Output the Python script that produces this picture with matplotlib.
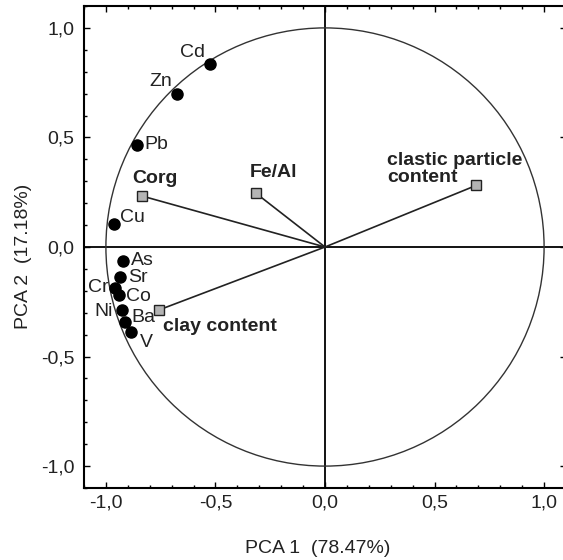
import matplotlib
matplotlib.use('Agg')
import matplotlib.pyplot as plt
from matplotlib.patches import Circle
from matplotlib.ticker import MultipleLocator, FuncFormatter

plt.rcParams['font.family'] = ['Liberation Sans', 'DejaVu Sans']

# element loadings (circles)
elements = ['Cd', 'Zn', 'Pb', 'Cu', 'As', 'Sr', 'Cr', 'Co', 'Ni', 'Ba', 'V']
el_pc1 = [-0.527, -0.676, -0.859, -0.964, -0.920, -0.936, -0.958, -0.940, -0.927, -0.912, -0.885]
el_pc2 = [0.835, 0.700, 0.466, 0.105, -0.064, -0.137, -0.185, -0.220, -0.289, -0.344, -0.389]

# supplementary variables (squares)
supp = ['Corg', 'Fe/Al', 'clastic particle\ncontent', 'clay content']
supp_pc1 = [-0.836, -0.316, 0.690, -0.757]
supp_pc2 = [0.233, 0.246, 0.281, -0.287]

ticks = [-1.0, -0.5, 0.0, 0.5, 1.0]

# label offsets in points (dx, dy, ha)
el_off = {
    'Cd': (-12.4, 8.5, 'center'), 'Zn': (-11.7, 8.4, 'center'),
    'Pb': (5.5, 0, 'left'), 'Cu': (4.8, 4.5, 'left'), 'As': (5.5, 0.5, 'left'),
    'Sr': (6, 0, 'left'), 'Cr': (-5, 0, 'right'), 'Co': (5, -0.7, 'left'),
    'Ni': (-6.5, -0.7, 'right'), 'Ba': (4.5, 3.6, 'left'), 'V': (6.5, -7.6, 'left'),
}
supp_off = [(-6.7, 12.6), (-4.5, 15), (-64, 11.9), (3, -12)]

txt = '#222222'
fs = 14

fig = plt.figure(figsize=(5.63, 5.60), dpi=100)
ax = fig.add_axes([84 / 563, 72 / 560, 482 / 563, 482 / 560])

ax.axhline(0, color='k', lw=1.3, zorder=1)
ax.axvline(0, color='k', lw=1.3, zorder=1)
ax.add_patch(Circle((0, 0), 1.0, fill=False, ec='#333333', lw=1.0, zorder=1))

for x, y in zip(supp_pc1, supp_pc2):
    ax.plot([0, x], [0, y], color='#222222', lw=1.2, zorder=2)

ax.plot(el_pc1, el_pc2, 'o', color='k', ms=8, zorder=4)
ax.plot(supp_pc1, supp_pc2, 's', mfc='#b4b4b4', mec='#222222', mew=1.0,
        ms=7, zorder=4)

for name, x, y in zip(elements, el_pc1, el_pc2):
    dx, dy, ha = el_off[name]
    ax.annotate(name, (x, y), xytext=(dx, dy), textcoords='offset points',
                ha=ha, va='center', fontsize=fs, color=txt)

for name, x, y, off in zip(supp, supp_pc1, supp_pc2, supp_off):
    dx, dy = off
    ax.annotate(name, (x, y), xytext=(dx, dy), textcoords='offset points',
                ha='left', va='center', fontsize=fs, fontweight='bold',
                color=txt, linespacing=1.0)

ax.set_xlim(-1.1, 1.1)
ax.set_ylim(-1.1, 1.1)
ax.set_xticks(ticks)
ax.set_yticks(ticks)
fmt = FuncFormatter(lambda v, p: ('%.1f' % v).replace('.', ','))
ax.xaxis.set_major_formatter(fmt)
ax.yaxis.set_major_formatter(fmt)
ax.xaxis.set_minor_locator(MultipleLocator(0.1))
ax.yaxis.set_minor_locator(MultipleLocator(0.1))
ax.tick_params(which='both', direction='in', top=True, right=True,
               labelsize=fs, labelcolor=txt, width=1.0)
ax.tick_params(which='major', length=4)
ax.tick_params(which='minor', length=2)
ax.tick_params(axis='x', pad=5)
ax.tick_params(axis='y', pad=7)
for s in ax.spines.values():
    s.set_linewidth(1.5)

ax.set_xlabel('PCA 1  (78.47%)', fontsize=fs, color=txt)
ax.set_ylabel('PCA 2  (17.18%)', fontsize=fs, color=txt)
ax.xaxis.set_label_coords(0.484, -0.108)
ax.yaxis.set_label_coords(-0.108, 0.481)

fig.savefig('out.png', dpi=100)
